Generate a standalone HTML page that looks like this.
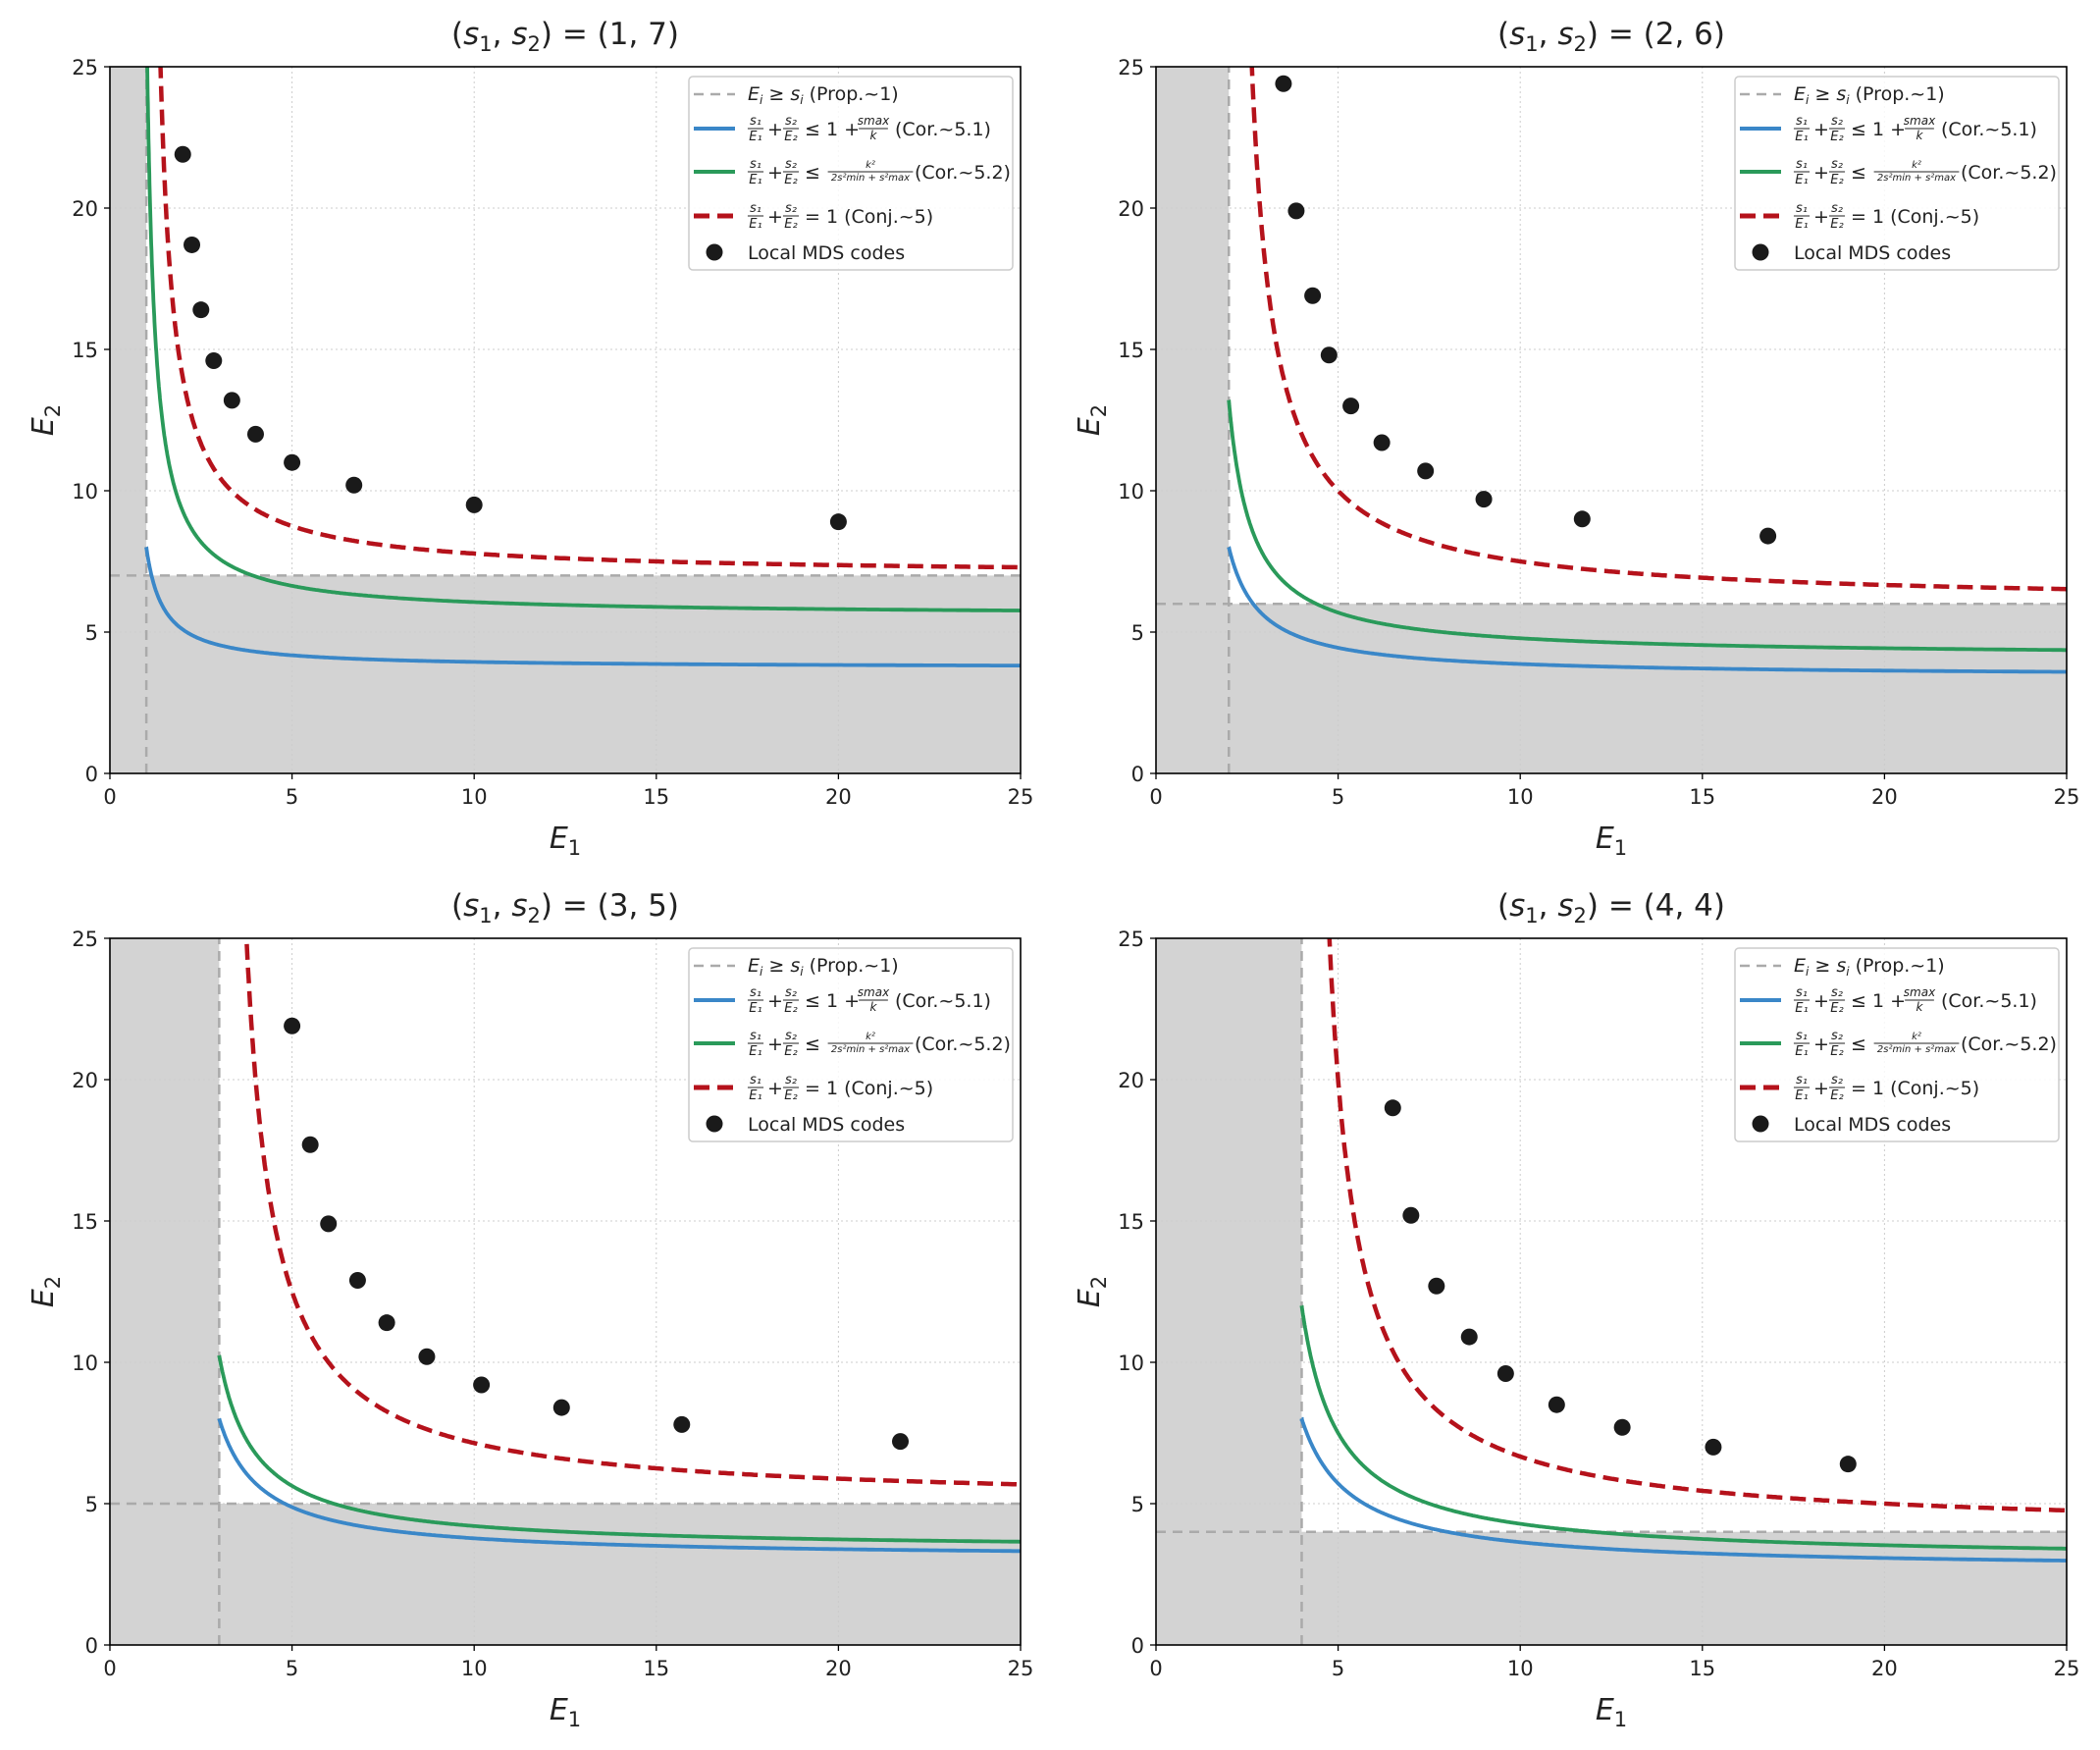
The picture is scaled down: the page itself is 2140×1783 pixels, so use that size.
<!DOCTYPE html>
<html><head><meta charset="utf-8"><style>
body{margin:0;background:#fff}
svg text{font-family:"DejaVu Sans","Liberation Sans",sans-serif;fill:#222}
</style></head><body>
<svg id="fig" width="2140" height="1778" viewBox="0 0 2140 1778" xmlns="http://www.w3.org/2000/svg"></svg>
<script>
const sPairs = [[1,7],[2,6],[3,5],[4,4]];
const ptsE1 = [
 [2,2.25,2.5,2.85,3.35,4,5,6.7,10,20],
 [3.5,3.85,4.3,4.75,5.35,6.2,7.4,9.0,11.7,16.8],
 [5,5.5,6,6.8,7.6,8.7,10.2,12.4,15.7,21.7],
 [6.5,7,7.7,8.6,9.6,11,12.8,15.3,19]
];
const ptsE2 = [
 [21.9,18.7,16.4,14.6,13.2,12,11,10.2,9.5,8.9],
 [24.4,19.9,16.9,14.8,13.0,11.7,10.7,9.7,9.0,8.4],
 [21.9,17.7,14.9,12.9,11.4,10.2,9.2,8.4,7.8,7.2],
 [19.0,15.2,12.7,10.9,9.6,8.5,7.7,7.0,6.4]
];
const ticks = [0,5,10,15,20,25];
const NS="http://www.w3.org/2000/svg";
const svg=document.getElementById('fig');
function el(tag,attrs,parent){const e=document.createElementNS(NS,tag);for(const k in attrs)e.setAttribute(k,attrs[k]);(parent||svg).appendChild(e);return e;}
const panels=[{x:112,y:68},{x:1178,y:68},{x:112,y:956},{x:1178,y:956}];
const W=928,H=720;
function fracT(g,x,y,num,den,fs){
  const a=el('text',{x:x,y:y-4,'font-size':fs,'font-style':'italic','text-anchor':'middle'},g);a.textContent=num;
  const b=el('text',{x:x,y:y+fs-1,'font-size':fs,'font-style':'italic','text-anchor':'middle'},g);b.textContent=den;
  const w=Math.max(num.length,den.length)*fs*0.62;
  el('line',{x1:x-w/2,x2:x+w/2,y1:y,y2:y,stroke:'#222','stroke-width':1},g);
  return w;
}
function txt(g,x,y,s,fs,extra){const t=el('text',Object.assign({x:x,y:y,'font-size':fs},extra||{}),g);t.textContent=s;return t;}
panels.forEach((p,i)=>{
  const [s1,s2]=sPairs[i];
  const g=el('g',{});
  
  
  const sx=v=>p.x+v/25*W, sy=v=>p.y+H-v/25*H;
  const cid='clip'+i;
  const cp=el('clipPath',{id:cid},g);el('rect',{x:p.x,y:p.y,width:W,height:H},cp);
  const pg=el('g',{'clip-path':'url(#'+cid+')'},g);
  const sh=el('path',{d:`M${sx(0)},${sy(0)} L${sx(0)},${sy(25)} L${sx(s1)},${sy(25)} L${sx(s1)},${sy(s2)} L${sx(25)},${sy(s2)} L${sx(25)},${sy(0)} Z`,fill:'#d3d3d3'},pg);
  
  
  ticks.forEach(t=>{
    el('line',{x1:sx(t),x2:sx(t),y1:p.y,y2:p.y+H,stroke:'#ccc','stroke-width':1,'stroke-dasharray':'2,3'},pg);
    el('line',{x1:p.x,x2:p.x+W,y1:sy(t),y2:sy(t),stroke:'#ccc','stroke-width':1,'stroke-dasharray':'2,3'},pg);
  });
  el('line',{x1:sx(s1),x2:sx(s1),y1:sy(0),y2:sy(25),stroke:'#aaa','stroke-width':2.5,'stroke-dasharray':'10,7'},pg);
  el('line',{x1:sx(0),x2:sx(25),y1:sy(s2),y2:sy(s2),stroke:'#aaa','stroke-width':2.5,'stroke-dasharray':'10,7'},pg);
  function curve(c,color,dash,w,name){
    let d='';let first=true;
    for(let k=0;k<=600;k++){const e1=s1+(25-s1)*Math.pow(k/600,2);const den=c-s1/e1;if(den<=0)continue;let e2=s2/den;if(e2>40)continue;
      d+=(first?'M':'L')+sx(e1).toFixed(1)+','+sy(e2).toFixed(1)+' ';first=false;}
    const pa=el('path',{d:d,fill:'none',stroke:color,'stroke-width':w,'stroke-dasharray':dash||'none'},pg);
    
    
  }
  const k=s1+s2,smax=Math.max(s1,s2),smin=Math.min(s1,s2);
  curve(1+smax/k,'#3a87c8',null,3.8,'cor-5-1-curve');
  curve(k*k/(2*smin*smin+smax*smax),'#2a9a5a',null,3.8,'cor-5-2-curve');
  curve(1,'#b5121b','16,8',4.5,'conj-5-curve');
  ptsE1[i].forEach((e1,j)=>{
    const c=el('circle',{cx:sx(e1),cy:sy(ptsE2[i][j]),r:8.5,fill:'#1a1a1a'},pg);
    
    
  });
  el('rect',{x:p.x,y:p.y,width:W,height:H,fill:'none',stroke:'#000','stroke-width':1.6},g);
  ticks.forEach(t=>{
    el('line',{x1:sx(t),x2:sx(t),y1:p.y+H,y2:p.y+H+6,stroke:'#000','stroke-width':1.3},g);
    txt(g,sx(t),p.y+H+31,String(t),21,{'text-anchor':'middle'});
    el('line',{x1:p.x-6,x2:p.x,y1:sy(t),y2:sy(t),stroke:'#000','stroke-width':1.3},g);
    txt(g,p.x-12,sy(t)+8,String(t),21,{'text-anchor':'end'});
  });
  const xl=txt(g,p.x+W/2,p.y+H+76,'',30,{'text-anchor':'middle','font-style':'italic'});
  xl.innerHTML='E<tspan font-size="21" dy="7" font-style="normal">1</tspan>';
  
  const yl=txt(g,0,0,'',30,{'text-anchor':'middle','font-style':'italic',transform:`translate(${p.x-58},${p.y+H/2}) rotate(-90)`});
  yl.innerHTML='E<tspan font-size="21" dy="7" font-style="normal">2</tspan>';
  
  const ti=txt(g,p.x+W/2,p.y-23,'',31,{'text-anchor':'middle'});
  ti.innerHTML=`(<tspan font-style="italic">s</tspan><tspan font-size="21" dy="7">1</tspan><tspan dy="-7">, </tspan><tspan font-style="italic">s</tspan><tspan font-size="21" dy="7">2</tspan><tspan dy="-7">) = (${s1}, ${s2})</tspan>`;
  
  const lx=p.x+590,ly=p.y+10;
  const lg=el('g',{},g);
  
  
  el('rect',{x:lx,y:ly,width:330,height:197,rx:4,fill:'#fff','fill-opacity':0.85,stroke:'#ccc','stroke-width':1.5},lg);
  const rows=[18,53,97,142,179].map(v=>ly+v);
  el('line',{x1:lx+5,x2:lx+47,y1:rows[0],y2:rows[0],stroke:'#aaa','stroke-width':2.5,'stroke-dasharray':'10,7'},lg);
  el('line',{x1:lx+5,x2:lx+47,y1:rows[1],y2:rows[1],stroke:'#3a87c8','stroke-width':4},lg);
  el('line',{x1:lx+5,x2:lx+47,y1:rows[2],y2:rows[2],stroke:'#2a9a5a','stroke-width':4},lg);
  el('line',{x1:lx+5,x2:lx+47,y1:rows[3],y2:rows[3],stroke:'#b5121b','stroke-width':5,'stroke-dasharray':'16,8'},lg);
  el('circle',{cx:lx+26,cy:rows[4],r:8.5,fill:'#1a1a1a'},lg);
  const tx=lx+60,fs=19;
  const t0=txt(lg,tx,rows[0]+6,'',fs);t0.innerHTML='<tspan font-style="italic">E<tspan font-size="12" dy="4">i</tspan></tspan><tspan dy="-4"> ≥ </tspan><tspan font-style="italic">s<tspan font-size="12" dy="4">i</tspan></tspan><tspan dy="-4"> (Prop.~1)</tspan>';
  function sumPart(y){
    fracT(lg,tx+8,y,'s₁','E₁',13);
    txt(lg,tx+20,y+7,'+',fs);
    fracT(lg,tx+44,y,'s₂','E₂',13);
  }
  sumPart(rows[1]);txt(lg,tx+58,rows[1]+7,'≤ 1 +',fs);fracT(lg,tx+128,rows[1],'smax','k',12);txt(lg,tx+150,rows[1]+7,'(Cor.~5.1)',fs);
  sumPart(rows[2]);txt(lg,tx+58,rows[2]+7,'≤',fs);fracT(lg,tx+125,rows[2],'k²','2s²min + s²max',10);txt(lg,tx+170,rows[2]+7,'(Cor.~5.2)',fs);
  sumPart(rows[3]);txt(lg,tx+58,rows[3]+7,'= 1 (Conj.~5)',fs);
  txt(lg,tx,rows[4]+7,'Local MDS codes',fs);
});
</script>
</body></html>
